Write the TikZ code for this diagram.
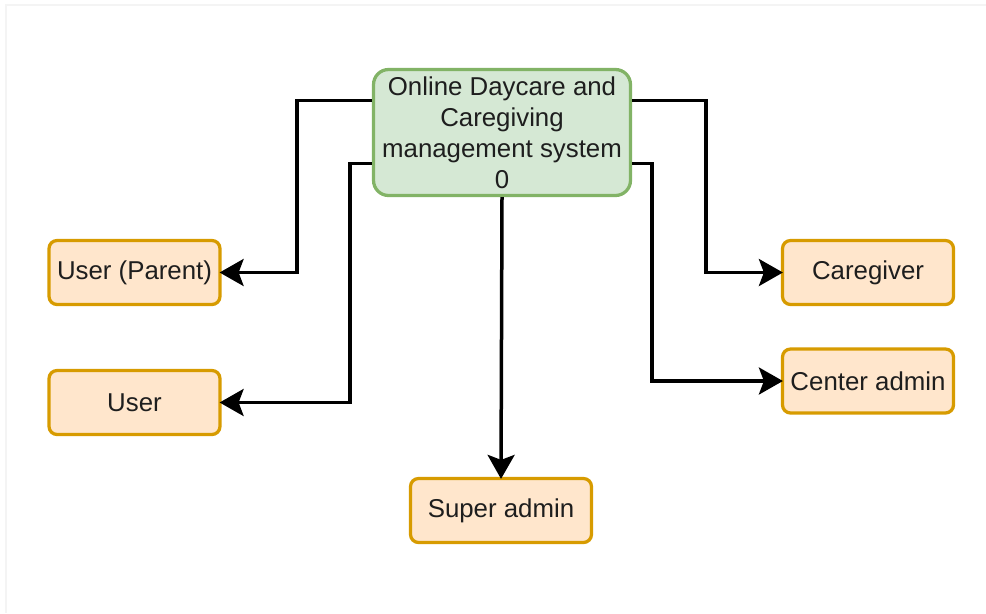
\documentclass[tikz,border=0pt]{standalone}
\usepackage{fontspec}
\setmainfont{Liberation Sans}
\usepackage{xcolor}
\usepackage{tikz}
\usetikzlibrary{arrows.meta,positioning,calc}
\definecolor{GreenF}{HTML}{D5E8D4}
\definecolor{GreenD}{HTML}{82B366}
\definecolor{OrangeF}{HTML}{FFE6CC}
\definecolor{OrangeD}{HTML}{D79B00}
\definecolor{Ink}{HTML}{1E1E1E}
\definecolor{Edge}{HTML}{F4F4F4}
\begin{document}
\begin{tikzpicture}[x=0.02cm,y=-0.02cm,
    font=\fontsize{14.7}{17.6}\selectfont,
    sys/.style={draw=GreenD,fill=GreenF,rounded corners=0.3cm,line width=0.065cm,
      minimum width=5.14cm,minimum height=2.52cm,align=center,text=Ink,inner sep=0pt},
    actor/.style={draw=OrangeD,fill=OrangeF,rounded corners=0.16cm,line width=0.065cm,
      minimum width=3.42cm,minimum height=1.28cm,text=Ink,inner sep=0pt},
    conn/.style={-{Stealth[length=0.48cm,width=0.54cm,inset=0.1cm]},line width=0.07cm,
      black,shorten >=-0.04cm},
    >=Stealth]
  \useasboundingbox (0,0) rectangle (986,613);
  \draw[Edge,line width=0.04cm] (6,613) -- (6,5) -- (986,5);
  \node[sys] (sys) at (502,132.5) {Online Daycare and\\Caregiving\\management system\\0};
  \node[actor] (parent) at (134.5,272.5) {User (Parent)};
  \node[actor] (user) at (134.5,402.5) {User};
  \node[actor] (care) at (868,272.5) {Caregiver};
  \node[actor] (center) at (868,381) {Center admin};
  \node[actor,minimum width=3.62cm] (super) at (501,510.5) {Super admin};
  \draw[conn] ([yshift=0.64cm]sys.west) -- ++(-75,0) |- (parent.east);
  \draw[conn] ([yshift=-0.62cm]sys.west) -- ++(-22,0) |- (user.east);
  \draw[conn] ([yshift=0.64cm]sys.east) -- ++(74,0) |- (care.west);
  \draw[conn] ([yshift=-0.62cm]sys.east) -- ++(20,0) |- (center.west);
  \draw[conn] (sys.south) -- (super.north);
\end{tikzpicture}
\end{document}
